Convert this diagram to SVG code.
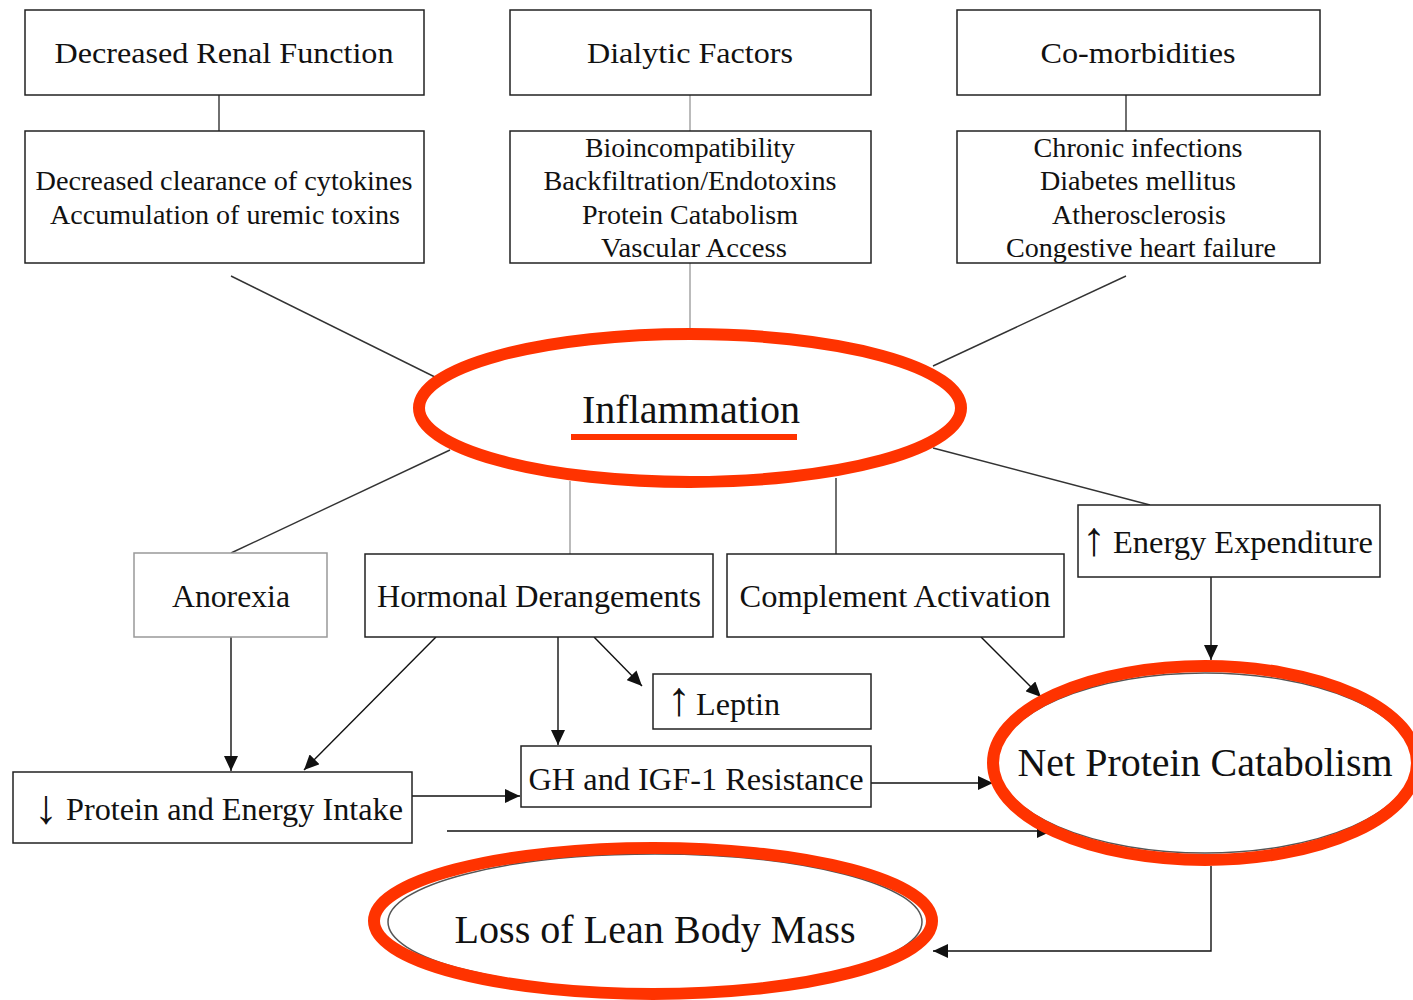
<svg xmlns="http://www.w3.org/2000/svg" width="1413" height="1000" viewBox="0 0 1413 1000">
<style>
.box{fill:#fff;stroke:#222;stroke-width:1.5}
.gbox{fill:#fff;stroke:#999;stroke-width:1.5}
.t{font-family:"Liberation Serif","Times New Roman",serif;fill:#111;text-anchor:middle}
.ts{font-family:"Liberation Serif","Times New Roman",serif;fill:#111;text-anchor:start}
.arr{font-family:"Liberation Serif","Times New Roman",serif;fill:#111;font-size:48px;text-anchor:start}
.s30{font-size:30px}
.s27{font-size:27px}
.s32{font-size:32px}
.s39{font-size:39px}
.ln{stroke:#333;stroke-width:1.4;fill:none}
.gl{stroke:#aaa;stroke-width:1.6;fill:none}
.ar{stroke:#111;stroke-width:1.4;fill:none;marker-end:url(#ah)}
.red{fill:none;stroke:#ff3300;stroke-width:12}
.thin{fill:none;stroke:#555;stroke-width:1.5}
</style>
<defs>
<marker id="ah" markerUnits="userSpaceOnUse" markerWidth="16" markerHeight="14" refX="15" refY="7" orient="auto">
<path d="M0,0 L15,7 L0,14 Z" fill="#111"/>
</marker>
</defs>
<rect width="1413" height="1000" fill="#fff"/>

<g id="connectors">
<line class="ln" x1="219" y1="95" x2="219" y2="131"/>
<line class="gl" x1="690" y1="95" x2="690" y2="131"/>
<line class="ln" x1="1126" y1="95" x2="1126" y2="131"/>
<line class="ln" x1="231" y1="276" x2="447" y2="383"/>
<line class="gl" x1="690" y1="263" x2="690" y2="330"/>
<line class="ln" x1="1126" y1="276" x2="933" y2="366"/>
<line class="ln" x1="450" y1="450" x2="231" y2="553"/>
<line class="gl" x1="570" y1="481" x2="570" y2="554"/>
<line class="ln" x1="836" y1="478" x2="836" y2="554"/>
<line class="ln" x1="933" y1="448" x2="1150" y2="505"/>
<line class="ar" x1="231" y1="637" x2="231" y2="771"/>
<line class="ar" x1="436" y1="637" x2="304" y2="770"/>
<line class="ar" x1="558" y1="637" x2="558" y2="745"/>
<line class="ar" x1="594" y1="637" x2="642" y2="686"/>
<line class="ar" x1="412" y1="796" x2="520" y2="796"/>
<line class="ar" x1="871" y1="783" x2="993" y2="783"/>
<line class="ar" x1="981" y1="637" x2="1041" y2="697"/>
<line class="ar" x1="1211" y1="577" x2="1211" y2="660"/>
<line class="ar" x1="447" y1="831" x2="1052" y2="831"/>
<polyline class="ar" points="1211,866 1211,951 933,951"/>
</g>

<g id="n-renal">
<rect class="box" x="25" y="10" width="399" height="85"/>
<text class="t s30" x="224" y="63" textLength="339" lengthAdjust="spacingAndGlyphs">Decreased Renal Function</text>
</g>
<g id="n-renal-detail">
<rect class="box" x="25" y="131" width="399" height="132"/>
<text class="t s27" x="224" y="190" textLength="377" lengthAdjust="spacingAndGlyphs">Decreased clearance of cytokines</text>
<text class="t s27" x="225" y="224" textLength="350" lengthAdjust="spacingAndGlyphs">Accumulation of uremic toxins</text>
</g>
<g id="n-dialytic">
<rect class="box" x="510" y="10" width="361" height="85"/>
<text class="t s30" x="690" y="63" textLength="206" lengthAdjust="spacingAndGlyphs">Dialytic Factors</text>
</g>
<g id="n-dialytic-detail">
<rect class="box" x="510" y="131" width="361" height="132"/>
<text class="t s27" x="690" y="157" textLength="210" lengthAdjust="spacingAndGlyphs">Bioincompatibility</text>
<text class="t s27" x="690" y="190" textLength="293" lengthAdjust="spacingAndGlyphs">Backfiltration/Endotoxins</text>
<text class="t s27" x="690" y="224" textLength="216" lengthAdjust="spacingAndGlyphs">Protein Catabolism</text>
<text class="t s27" x="694" y="257" textLength="186" lengthAdjust="spacingAndGlyphs">Vascular Access</text>
</g>
<g id="n-comorb">
<rect class="box" x="957" y="10" width="363" height="85"/>
<text class="t s30" x="1138" y="63" textLength="195" lengthAdjust="spacingAndGlyphs">Co-morbidities</text>
</g>
<g id="n-comorb-detail">
<rect class="box" x="957" y="131" width="363" height="132"/>
<text class="t s27" x="1138" y="157" textLength="209" lengthAdjust="spacingAndGlyphs">Chronic infections</text>
<text class="t s27" x="1138" y="190" textLength="196" lengthAdjust="spacingAndGlyphs">Diabetes mellitus</text>
<text class="t s27" x="1139" y="224" textLength="174" lengthAdjust="spacingAndGlyphs">Atherosclerosis</text>
<text class="t s27" x="1141" y="257" textLength="270" lengthAdjust="spacingAndGlyphs">Congestive heart failure</text>
</g>

<g id="n-inflammation">
<ellipse cx="690" cy="408" rx="268" ry="71" fill="#fff" stroke="none"/>
<ellipse class="red" cx="690" cy="408" rx="271" ry="74"/>
<text class="t s39" x="691" y="423" textLength="218" lengthAdjust="spacingAndGlyphs">Inflammation</text>
<rect x="571" y="434" width="226" height="6" fill="#ff3300"/>
</g>

<g id="n-anorexia">
<rect class="gbox" x="134" y="553" width="193" height="84"/>
<text class="t s32" x="231" y="607" textLength="118" lengthAdjust="spacingAndGlyphs">Anorexia</text>
</g>
<g id="n-hormonal">
<rect class="box" x="365" y="554" width="348" height="83"/>
<text class="t s32" x="539" y="607" textLength="324" lengthAdjust="spacingAndGlyphs">Hormonal Derangements</text>
</g>
<g id="n-complement">
<rect class="box" x="727" y="554" width="337" height="83"/>
<text class="t s32" x="895" y="607" textLength="311" lengthAdjust="spacingAndGlyphs">Complement Activation</text>
</g>
<g id="n-energy">
<rect class="box" x="1078" y="505" width="302" height="72"/>
<text class="arr" x="1082" y="555">↑</text>
<text class="ts s32" x="1113" y="553" textLength="260" lengthAdjust="spacingAndGlyphs">Energy Expenditure</text>
</g>
<g id="n-leptin">
<rect class="box" x="653" y="674" width="218" height="55"/>
<text class="arr" x="667" y="715">↑</text>
<text class="ts s32" x="696" y="715" textLength="84" lengthAdjust="spacingAndGlyphs">Leptin</text>
</g>
<g id="n-gh">
<rect class="box" x="521" y="746" width="350" height="61"/>
<text class="t s32" x="696" y="790" textLength="335" lengthAdjust="spacingAndGlyphs">GH and IGF-1 Resistance</text>
</g>
<g id="n-intake">
<rect class="box" x="13" y="772" width="399" height="71"/>
<text class="arr" x="34" y="823">↓</text>
<text class="ts s32" x="66" y="820" textLength="337" lengthAdjust="spacingAndGlyphs">Protein and Energy Intake</text>
</g>

<g id="n-netprotein">
<ellipse class="thin" cx="1205" cy="763" rx="208" ry="90" stroke="#666"/>
<ellipse class="red" cx="1205" cy="763" rx="212" ry="97"/>
<text class="t s39" x="1205" y="776" textLength="375" lengthAdjust="spacingAndGlyphs">Net Protein Catabolism</text>
</g>

<g id="n-leanmass">
<ellipse class="thin" cx="655" cy="922" rx="267" ry="68"/>
<ellipse class="red" cx="653" cy="921" rx="279" ry="73"/>
<text class="t s39" x="655" y="943" textLength="401" lengthAdjust="spacingAndGlyphs">Loss of Lean Body Mass</text>
</g>
</svg>
